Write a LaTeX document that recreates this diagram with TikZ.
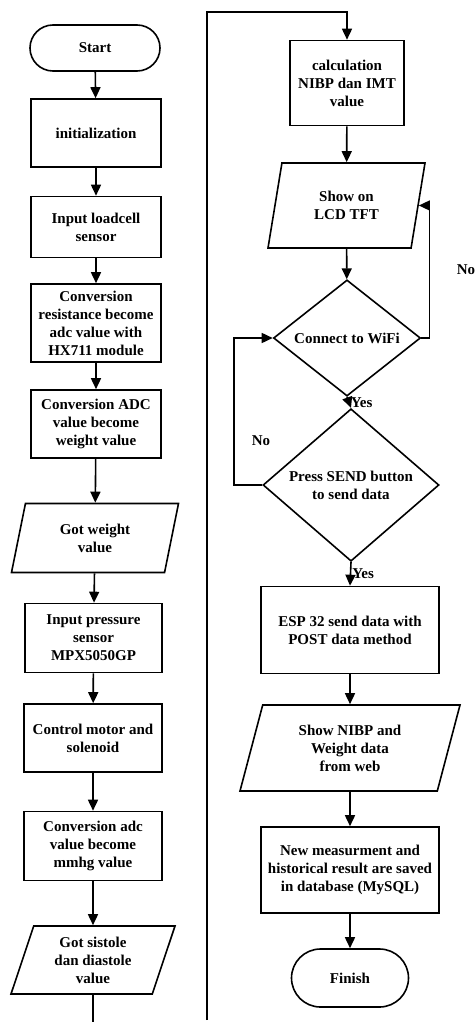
\documentclass[tikz,border=0pt]{standalone}
\usepackage{fontspec}
\setmainfont{Liberation Serif}
\usepackage{tikz}
\usetikzlibrary{shapes.geometric,shapes.misc,arrows.meta}

\begin{document}
\begin{tikzpicture}[x=1pt,y=-1pt,line width=1.6pt,>={Triangle[length=11pt,width=10pt]},
	every node/.style={font=\fontsize{15}{18}\selectfont\bfseries,align=center},
	procbox/.style={draw,rectangle,inner sep=0pt},
	iobox/.style={draw,trapezium,trapezium left angle=64,trapezium right angle=116,trapezium stretches body,inner sep=0pt},
	decbox/.style={draw,diamond,inner sep=0pt},
	termbox/.style={draw,rounded rectangle,inner sep=0pt}]
		\useasboundingbox (0,0) rectangle (474,1022);
		% linke Spalte
		\node[termbox,minimum width=130,minimum height=46] (start) at (95,48) {Start};
		\node[procbox,minimum width=130,minimum height=68] (init) at (96,133) {initialization};
		\node[procbox,minimum width=130,minimum height=61] (loadcell) at (96,227) {Input loadcell\\sensor};
		\node[procbox,minimum width=130,minimum height=78] (convres) at (96,323) {Conversion\\resistance become\\adc value with\\HX711 module};
		\node[procbox,minimum width=130,minimum height=68] (convadc) at (96,424) {Conversion ADC\\value become\\weight value};
		\node[iobox,minimum width=167,minimum height=69] (gotweight) at (95,538) {Got weight\\value};
		\node[procbox,minimum width=137,minimum height=69] (pressure) at (93.5,638) {Input pressure\\sensor\\MPX5050GP};
		\node[procbox,minimum width=138,minimum height=68] (motor) at (93,738) {Control motor and\\solenoid};
		\node[procbox,minimum width=138,minimum height=69] (convmmhg) at (93,846) {Conversion adc\\value become\\mmhg value};
		\node[iobox,minimum width=164,minimum height=68] (gotsys) at (93,960) {Got sistole\\dan diastole\\value};
		\coordinate (leftend) at (93,1022);
		% rechte Spalte
		\node[procbox,minimum width=114,minimum height=85] (calc) at (347,83) {calculation\\NIBP dan IMT\\value};
		\node[iobox,minimum width=157,minimum height=85] (showlcd) at (346.5,205.5) {Show on\\LCD TFT};
		\node[decbox,minimum width=147,minimum height=107] (wifi) at (347,338) {Connect to WiFi};
		\node[decbox,minimum width=176,minimum height=136] (press) at (351,485) {Press SEND button\\to send data};
		\node[procbox,minimum width=178,minimum height=87] (esp) at (350,630) {ESP 32 send data with\\POST data method};
		\node[iobox,minimum width=220,minimum height=86] (showweb) at (350,748) {Show NIBP and\\Weight data\\from web};
		\node[procbox,minimum width=178,minimum height=86] (saved) at (350,870) {New measurment and\\historical result are saved\\in database (MySQL)};
		\node[termbox,minimum width=117,minimum height=58] (finish) at (350,978) {Finish};
		\coordinate (rightend) at (207,1020);
		\coordinate (righttop) at (207,12);
		% Labels
		\node (noright) at (466,270) {No};
		\node (noleft) at (261,441) {No};
		% Pfeile
		\draw[->] (start) -- (init);
		\draw[->] (init) -- (loadcell);
		\draw[->] (loadcell) -- (convres);
		\draw[->] (convres) -- (convadc);
		\draw[->] (convadc) -- (gotweight);
		\draw[->] (gotweight) -- (pressure);
		\draw[->] (pressure) -- (motor);
		\draw[->] (motor) -- (convmmhg);
		\draw[->] (convmmhg) -- (gotsys);
		\draw (gotsys) -- (leftend);
		\draw[->] (rightend) -- (righttop) -| (calc);
		\draw[->] (calc) -- (showlcd);
		\draw[->] (showlcd) -- (wifi);
		\draw[->] (wifi.east) -- ++(8,0) |- (showlcd);
		\draw[->] (wifi.south) -- node[right,inner sep=1pt] (yesone) {Yes} (press.north);
		\draw[->] (press.west) -- ++(-28,0) |- (wifi.west);
		\draw[->] (press.south) -- node[right,inner sep=1pt] (yestwo) {Yes} (esp.north);
		\draw[->] (esp) -- (showweb);
		\draw[->] (showweb) -- (saved);
		\draw[->] (saved) -- (finish);
	\end{tikzpicture}
\end{document}
